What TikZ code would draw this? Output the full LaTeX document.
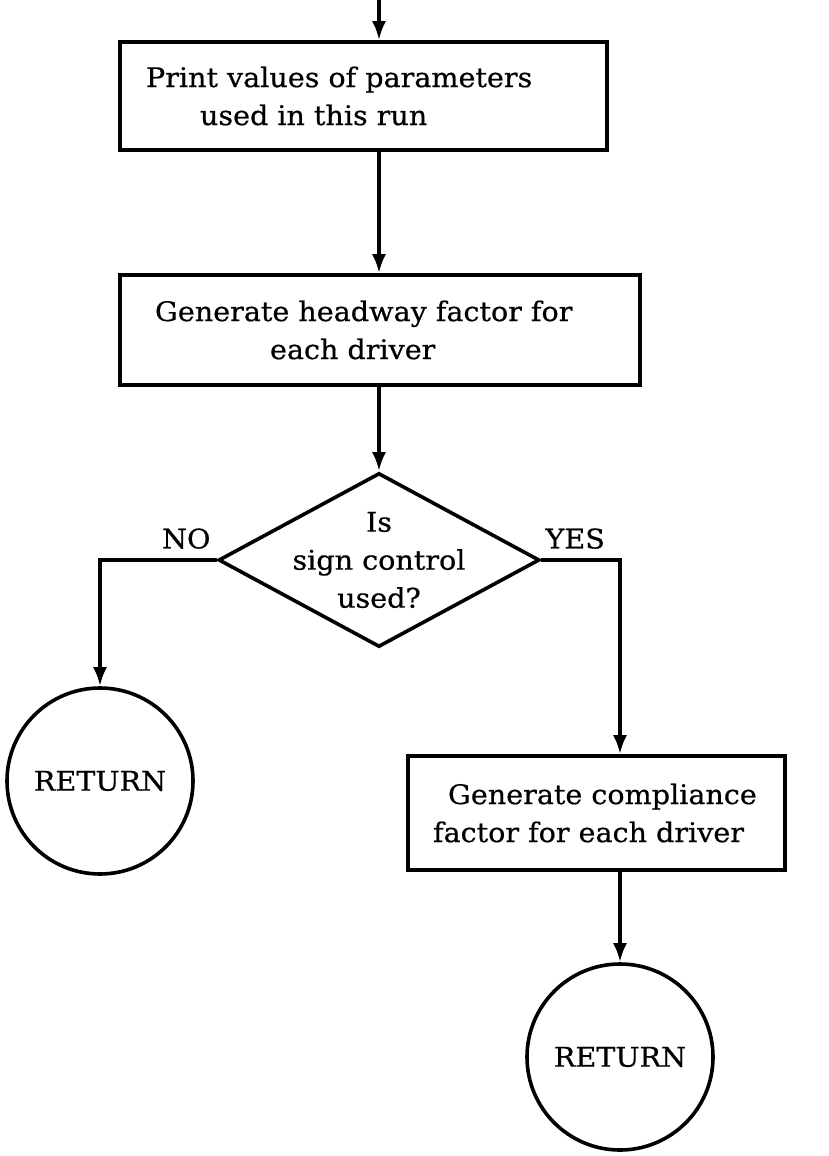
\documentclass[tikz,border=0pt]{standalone}
\usepackage{fontspec}
\setmainfont{DejaVu Serif}[FakeStretch=1.06, FakeBold=0.6]
\usetikzlibrary{arrows.meta,shapes.geometric}

\tikzset{
  box/.style={draw, line width=3.6pt, align=left, inner ysep=0pt},
  ret/.style={draw, circle, line width=3.6pt, inner sep=0pt},
  test/.style={draw, diamond, line width=3.6pt, inner sep=0pt},
  flow/.style={line width=3.6pt, -{Latex[length=19pt,width=14pt]}},
  lbl/.style={inner sep=0pt}
}

\begin{document}
\begin{tikzpicture}[x=1pt,y=-1pt,font=\fontsize{27}{38}\selectfont]
  \useasboundingbox (0,0) rectangle (829,1156);
  \coordinate (in) at (379,0);
  \node[box, inner xsep=26pt, text width=435pt, minimum height=108pt] (print) at (363.5,96)
    {Print values of parameters\\\hspace*{54pt}used in this run};
  \node[box, inner xsep=35pt, text width=450pt, minimum height=110pt] (head) at (380,330)
    {Generate headway factor for\\\hspace*{115pt}each driver};
  \node[test, minimum width=321pt, minimum height=174pt,
        label={[align=center]center:Is\\sign control\\used?}] (ask) at (379,560) {};
  \node[ret, minimum size=186pt] (ret1) at (100,781) {RETURN};
  \node[box, inner xsep=25pt, text width=327pt, minimum height=114pt] (comp) at (596.5,813)
    {\hspace*{15pt}Generate compliance\\factor for each driver};
  \node[ret, minimum size=186pt] (ret2) at (620,1057) {RETURN};
  \node[lbl, anchor=south east] (no) at ([xshift=-6pt, yshift=11pt]ask.west) {NO};
  \node[lbl, anchor=south west] (yes) at ([xshift=4pt, yshift=11pt]ask.east) {YES};

  \draw[flow] (in) -- (in |- print.north);
  \draw[flow] (in |- print.south) -- (in |- head.north);
  \draw[flow] (in |- head.south) -- (ask.north);
  \draw[flow] (ask.west) -| (ret1.north);
  \draw[flow] (ask.east) -| (ret2 |- comp.north);
  \draw[flow] (ret2 |- comp.south) -- (ret2.north);
\end{tikzpicture}
\end{document}
